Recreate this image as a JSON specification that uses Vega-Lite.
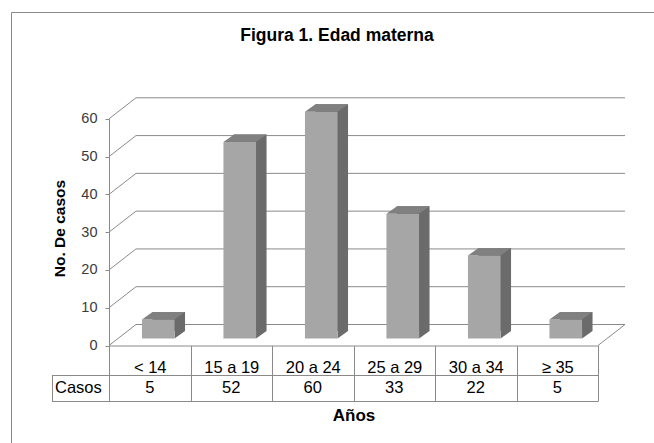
{
  "$schema": "https://vega.github.io/schema/vega-lite/v6.json",
  "width": 654,
  "height": 443,
  "padding": 0,
  "autosize": {"type": "none"},
  "background": "white",
  "config": {
    "view": {"stroke": null},
    "font": "Liberation Sans"
  },
  "title": {
    "text": "Figura 1. Edad materna",
    "frame": "group",
    "anchor": "middle",
    "baseline": "alphabetic",
    "offset": 0,
    "dx": 10,
    "dy": 58,
    "fontSize": 17.5,
    "fontWeight": "bold",
    "color": "black",
    "font": "Liberation Sans"
  },
  "datasets": {
    "edad": [
      {"grupo": "< 14", "casos": 5},
      {"grupo": "15 a 19", "casos": 52},
      {"grupo": "20 a 24", "casos": 60},
      {"grupo": "25 a 29", "casos": 33},
      {"grupo": "30 a 34", "casos": 22},
      {"grupo": "≥ 35", "casos": 5}
    ],
    "escala": [
      {"v": 0}, {"v": 10}, {"v": 20}, {"v": 30}, {"v": 40}, {"v": 50}, {"v": 60}
    ],
    "uno": [{}]
  },
  "layer": [
    {
      "description": "chart area border (top and left edges)",
      "data": {"name": "uno"},
      "mark": {"type": "rule", "color": "#8a8a8a", "strokeWidth": 1},
      "encoding": {
        "x": {"value": 11.5},
        "x2": {"value": 654},
        "y": {"value": 12.5}
      }
    },
    {
      "data": {"name": "uno"},
      "mark": {"type": "rule", "color": "#8a8a8a", "strokeWidth": 1},
      "encoding": {
        "x": {"value": 11.5},
        "y": {"value": 12.5},
        "y2": {"value": 443}
      }
    },
    {
      "description": "back wall gridlines",
      "data": {"name": "escala"},
      "mark": {"type": "rule", "color": "#8a8a8a", "strokeWidth": 1, "yOffset": -21},
      "encoding": {
        "x": {"value": 136},
        "x2": {"value": 625},
        "y": {
          "field": "v",
          "type": "quantitative",
          "scale": {"domain": [0, 60], "range": [345.5, 118.8], "nice": false},
          "axis": {
            "orient": "left",
            "offset": -109,
            "values": [0, 10, 20, 30, 40, 50, 60],
            "grid": false,
            "domainColor": "#8a8a8a",
            "tickColor": "#8a8a8a",
            "tickSize": 4,
            "labelFontSize": 14.5,
            "labelColor": "#3a3a3a",
            "labelPadding": 8,
            "title": "No. De casos",
            "titleFontSize": 15.5,
            "titleFontWeight": "bold",
            "titleColor": "black",
            "titleAngle": 270,
            "titleAlign": "center",
            "titleBaseline": "middle",
            "titleX": -49.5,
            "titleY": 228
          }
        }
      }
    },
    {
      "description": "side wall gridlines running back from the value axis",
      "data": {"name": "escala"},
      "mark": {"type": "rule", "color": "#8a8a8a", "strokeWidth": 1, "y2Offset": -21},
      "encoding": {
        "x": {"value": 109},
        "x2": {"value": 136},
        "y": {"field": "v", "type": "quantitative"},
        "y2": {"field": "v"}
      }
    },
    {
      "description": "right edge of the floor",
      "data": {"name": "uno"},
      "mark": {"type": "rule", "color": "#8a8a8a", "strokeWidth": 1, "y2Offset": -21},
      "encoding": {
        "x": {"value": 598},
        "x2": {"value": 625},
        "y": {"datum": 0, "type": "quantitative"},
        "y2": {"datum": 0}
      }
    },
    {
      "description": "column side faces",
      "data": {"name": "edad"},
      "mark": {
        "type": "bar",
        "width": {"band": 0.4},
        "color": "#6b6b6b",
        "opacity": 1,
        "xOffset": 19,
        "yOffset": -14.5,
        "y2Offset": -14.5
      },
      "encoding": {
        "x": {
          "field": "grupo",
          "type": "nominal",
          "sort": null,
          "scale": {
            "type": "band",
            "domain": ["< 14", "15 a 19", "20 a 24", "25 a 29", "30 a 34", "≥ 35"],
            "range": [109, 598],
            "paddingInner": 0,
            "paddingOuter": 0
          },
          "axis": {
            "orient": "bottom",
            "offset": -97.5,
            "domainColor": "#8a8a8a",
            "tickColor": "#8a8a8a",
            "tickBand": "extent",
            "tickSize": 55.5,
            "labelAngle": 0,
            "labelFontSize": 16.5,
            "labelColor": "black",
            "labelBaseline": "alphabetic",
            "labelPadding": -29,
            "title": "Años",
            "titleFontSize": 17,
            "titleFontWeight": "bold",
            "titleColor": "black",
            "titleBaseline": "alphabetic",
            "titleY": 75
          }
        },
        "y": {"field": "casos", "type": "quantitative"},
        "y2": {"datum": 0}
      }
    },
    {
      "description": "lower corner of each side face",
      "data": {"name": "edad"},
      "mark": {
        "type": "point",
        "shape": "M24.8,-14.5L35.3,-14.5L24.8,-7Z",
        "size": 4,
        "filled": true,
        "opacity": 1,
        "strokeWidth": 0,
        "color": "#6b6b6b"
      },
      "encoding": {
        "x": {"field": "grupo", "type": "nominal", "sort": null},
        "y": {"datum": 0, "type": "quantitative"}
      }
    },
    {
      "description": "column front faces",
      "data": {"name": "edad"},
      "mark": {
        "type": "bar",
        "width": {"band": 0.4},
        "color": "#a6a6a6",
        "opacity": 1,
        "xOffset": 8.5,
        "yOffset": -7,
        "y2Offset": -7
      },
      "encoding": {
        "x": {"field": "grupo", "type": "nominal", "sort": null},
        "y": {"field": "casos", "type": "quantitative"},
        "y2": {"datum": 0}
      }
    },
    {
      "description": "column top faces",
      "data": {"name": "edad"},
      "mark": {
        "type": "point",
        "shape": "M-7.8,-7L24.8,-7L35.3,-14.5L2.7,-14.5Z",
        "size": 4,
        "filled": true,
        "opacity": 1,
        "strokeWidth": 0,
        "color": "#808080"
      },
      "encoding": {
        "x": {"field": "grupo", "type": "nominal", "sort": null},
        "y": {"field": "casos", "type": "quantitative"}
      }
    },
    {
      "description": "data table: values row",
      "data": {"name": "edad"},
      "mark": {"type": "text", "fontSize": 16.5, "color": "black", "baseline": "alphabetic", "align": "center"},
      "encoding": {
        "x": {"field": "grupo", "type": "nominal", "sort": null},
        "y": {"value": 392.5},
        "text": {"field": "casos", "type": "quantitative"}
      }
    },
    {
      "description": "data table: row header",
      "data": {"name": "uno"},
      "mark": {"type": "text", "text": "Casos", "fontSize": 16.5, "color": "black", "baseline": "alphabetic", "align": "left"},
      "encoding": {
        "x": {"value": 55},
        "y": {"value": 392.5}
      }
    },
    {
      "description": "data table: row divider",
      "data": {"name": "uno"},
      "mark": {"type": "rule", "color": "#8a8a8a", "strokeWidth": 1},
      "encoding": {
        "x": {"value": 52},
        "x2": {"value": 598},
        "y": {"value": 375.5}
      }
    },
    {
      "description": "data table: bottom edge",
      "data": {"name": "uno"},
      "mark": {"type": "rule", "color": "#8a8a8a", "strokeWidth": 1},
      "encoding": {
        "x": {"value": 52},
        "x2": {"value": 598},
        "y": {"value": 401.5}
      }
    },
    {
      "description": "data table: left edge of the header cell",
      "data": {"name": "uno"},
      "mark": {"type": "rule", "color": "#8a8a8a", "strokeWidth": 1},
      "encoding": {
        "x": {"value": 52.5},
        "y": {"value": 375.5},
        "y2": {"value": 401.5}
      }
    }
  ]
}
